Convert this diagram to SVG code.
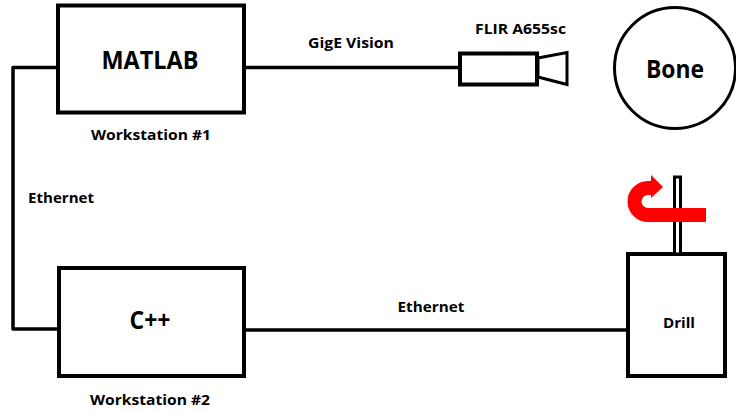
<svg xmlns="http://www.w3.org/2000/svg" width="736" height="412" viewBox="0 0 736 412">
<style>
.s{fill:#fff;stroke:#000;stroke-width:4}
.c{fill:none;stroke:#000;stroke-width:3.5;stroke-linejoin:round}
text{font-family:"Open Sans","Liberation Sans",sans-serif;font-weight:700;fill:#000;text-anchor:middle}
.m{font-size:14.500px}
.l{font-size:25px}
</style>
<rect width="736" height="412" fill="#fff"/>
<g id="connectors">
<path class="c" d="M58 67.500H13V329H59"/>
<path class="c" d="M244 67.500H459"/>
<path class="c" d="M244 330H628"/>
</g>
<g id="matlab"><rect class="s" x="58" y="5.500" width="186" height="107"/><text class="l" x="150" y="69" textLength="97" lengthAdjust="spacingAndGlyphs">MATLAB</text><text class="m" x="151" y="140" textLength="120" lengthAdjust="spacingAndGlyphs">Workstation #1</text></g>
<g id="cpp"><rect class="s" x="59" y="268" width="185" height="108"/><text class="l" x="150" y="329" textLength="41" lengthAdjust="spacingAndGlyphs">C++</text><text class="m" x="150" y="405" textLength="120" lengthAdjust="spacingAndGlyphs">Workstation #2</text></g>
<g id="camera"><rect class="s" x="460" y="53.500" width="77" height="31"/><path d="M538 58L567 52.500V84.500L538 77Z" fill="#fff" stroke="#000" stroke-width="3"/><text class="m" x="520.500" y="34" textLength="91" lengthAdjust="spacingAndGlyphs">FLIR A655sc</text></g>
<g id="bone"><circle cx="675" cy="68" r="60.500" fill="#fff" stroke="#000" stroke-width="3"/><text class="l" x="675" y="78" textLength="58" lengthAdjust="spacingAndGlyphs">Bone</text></g>
<g id="drill"><rect class="s" x="628" y="254" width="97" height="122"/><text class="m" x="679" y="328" textLength="32" lengthAdjust="spacingAndGlyphs">Drill</text>
<rect x="674.500" y="177" width="6" height="77" fill="#fff" stroke="#000" stroke-width="3"/>
<path d="M706 215H648A13.500 13.500 0 0 1 648 188H653" fill="none" stroke="#f00" stroke-width="14"/>
<path d="M651 175L663 187L651 198Z" fill="#f00"/></g>
<g id="labels"><text class="m" x="351" y="48" textLength="86" lengthAdjust="spacingAndGlyphs">GigE Vision</text><text class="m" x="61" y="203" textLength="66" lengthAdjust="spacingAndGlyphs">Ethernet</text><text class="m" x="431" y="312" textLength="67" lengthAdjust="spacingAndGlyphs">Ethernet</text></g>
</svg>
